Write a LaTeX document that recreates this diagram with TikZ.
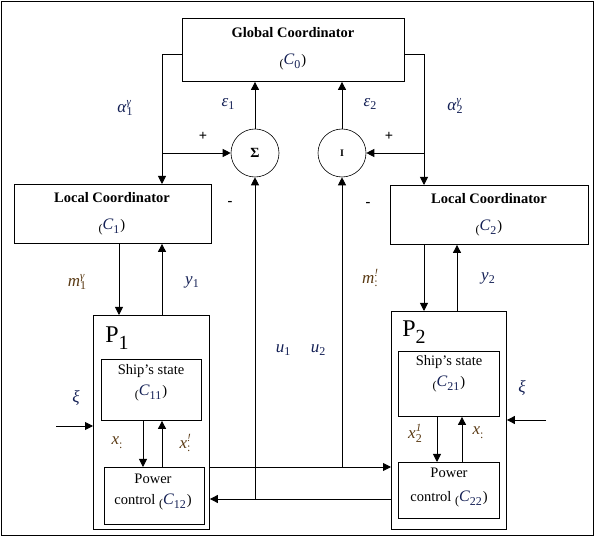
\documentclass[tikz,border=0pt]{standalone}
\usepackage{fontspec}
\setmainfont{Liberation Serif}
\usetikzlibrary{arrows.meta}
\definecolor{lab}{RGB}{20,32,85}
\definecolor{labm}{RGB}{90,58,20}
\newcommand{\sv}[3]{\textit{#1}\rlap{\raisebox{0.42em}{\fontsize{11}{11}\selectfont\textit{#2}}}\raisebox{-0.22em}{\fontsize{12}{11}\selectfont #3}}
\newcommand{\pc}[2]{{\raisebox{-3pt}{\fontsize{12}{12}\selectfont(}}\textcolor{lab}{\fontsize{16}{16}\selectfont\sv{#1}{}{#2}}\kern1pt)}
\begin{document}
\begin{tikzpicture}[x=1pt,y=-1pt,line width=0.9pt,
  >={Triangle[length=8pt,width=8pt]},
  box/.style={draw,rectangle,anchor=north west,inner sep=0pt},
  sum/.style={draw,circle,line width=0.6pt,minimum size=48pt,inner sep=0pt},
  txt/.style={inner sep=0pt,font=\fontsize{14.5}{16}\selectfont},
  btxt/.style={inner sep=0pt,font=\fontsize{14.5}{16}\selectfont\bfseries},
  mlab/.style={inner sep=0pt,text=lab,font=\fontsize{17}{19}\selectfont},
  mlabm/.style={inner sep=0pt,text=labm,font=\fontsize{17}{19}\selectfont},
  big/.style={inner sep=0pt,font=\fontsize{24}{24}\selectfont}]
\useasboundingbox (0,0) rectangle (595,537);
\draw[line width=1pt] (1.5,1.5) rectangle (593,535.5);
% boxes
\node[box,minimum width=222pt,minimum height=63pt] (gc) at (182,18) {};
\node[box,minimum width=197pt,minimum height=59pt] (lc1) at (14,184) {};
\node[box,minimum width=198pt,minimum height=59pt] (lc2) at (390,185) {};
\node[box,minimum width=116pt,minimum height=214pt] (p1) at (93,315) {};
\node[box,minimum width=100pt,minimum height=61pt] (ss1) at (101,359) {};
\node[box,minimum width=100pt,minimum height=57pt] (pw1) at (104,467) {};
\node[box,minimum width=115pt,minimum height=218pt] (p2) at (391,311) {};
\node[box,minimum width=101pt,minimum height=65pt] (ss2) at (398,351) {};
\node[box,minimum width=101pt,minimum height=56pt] (pw2) at (398,462) {};
\node[sum] (s1) at (255,153) {\textbf{\fontsize{14}{14}\selectfont Σ}};
\node[sum] (s2) at (342,153) {\textbf{\fontsize{10}{10}\selectfont I}};
% box texts
\node[btxt] (tgc) at (293,33) {Global Coordinator};
\node[txt] (tgc2) at (293,62) {\pc{C}{0}};
\node[btxt] (tlc1) at (112,198) {Local Coordinator};
\node[txt] (tlc1b) at (112,227) {\pc{C}{1}};
\node[btxt] (tlc2) at (489,199) {Local Coordinator};
\node[txt] (tlc2b) at (489,228) {\pc{C}{2}};
\node[big] (tp1) at (117,338) {P\raisebox{-7pt}{\fontsize{20}{20}\selectfont 1}};
\node[big] (tp2) at (414,332) {P\raisebox{-7pt}{\fontsize{20}{20}\selectfont 2}};
\node[txt] (tss1) at (151,371) {Ship’s state};
\node[txt] (tss1b) at (151,393) {\pc{C}{11}};
\node[txt] (tpw1) at (153,479) {Power};
\node[txt] (tpw1b) at (153,502) {control \pc{C}{12}};
\node[txt] (tss2) at (449,362) {Ship’s state};
\node[txt] (tss2b) at (449,384) {\pc{C}{21}};
\node[txt] (tpw2) at (449,473) {Power};
\node[txt] (tpw2b) at (449,499) {control \pc{C}{22}};
% signal labels
\node[mlab] (la1) at (125,108) {\sv{α}{γ}{1}};
\node[mlab] (le1) at (228,104) {\sv{ε}{}{1}};
\node[mlab] (le2) at (370,104) {\sv{ε}{}{2}};
\node[mlab] (la2) at (455,106) {\sv{α}{γ}{2}};
\node[btxt] (pl1) at (203,136) {+};
\node[btxt] (mi1) at (230,203) {-};
\node[btxt] (pl2) at (389,136) {+};
\node[btxt] (mi2) at (368,204) {-};
\node[mlabm] (lm1) at (77,282) {\sv{m}{γ}{1}};
\node[mlab] (ly1) at (192,282) {\sv{y}{}{1}};
\node[mlabm] (lm2) at (370,278) {\sv{m}{!}{:}};
\node[mlab] (ly2) at (488,278) {\sv{y}{}{2}};
\node[mlab] (lu1) at (283,350) {\sv{u}{}{1}};
\node[mlab] (lu2) at (318,350) {\sv{u}{}{2}};
\node[mlab] (lxi1) at (76,398) {\textit{ξ}};
\node[mlab] (lxi2) at (522,388) {\textit{ξ}};
\node[mlabm] (lx11) at (117,443) {\sv{x}{}{:}};
\node[mlabm] (lx12) at (185,443) {\sv{x}{!}{:}};
\node[mlabm] (lx21) at (415,433) {\sv{x}{1}{2}};
\node[mlabm] (lx22) at (478,433) {\sv{x}{}{:}};
% coordinates
\coordinate (a1) at (162,54);
\coordinate (b1) at (162,153);
\coordinate (a2) at (424,54);
\coordinate (b2) at (424,153);
\coordinate (j1) at (255,499);
\coordinate (j2) at (342,467);
\coordinate (xm1) at (119,0);
\coordinate (xy1) at (162,0);
\coordinate (xm2) at (424,0);
\coordinate (xy2) at (457,0);
\coordinate (xd1) at (143,0);
\coordinate (xu1) at (162,0);
\coordinate (xd2) at (437,0);
\coordinate (xu2) at (462,0);
\coordinate (xi1) at (56,426);
\coordinate (xi2) at (546,420);
% connectors
\draw[->] (gc.west |- a1) -- (a1) -- (lc1.north -| a1);
\draw[->] (b1) -- (s1.west);
\draw[->] (s1.north) -- (gc.south -| s1);
\draw[->] (gc.east |- a2) -- (a2) -- (lc2.north -| a2);
\draw[->] (b2) -- (s2.east);
\draw[->] (s2.north) -- (gc.south -| s2);
\draw[->] (lc1.south -| xm1) -- (p1.north -| xm1);
\draw[->] (p1.north -| xy1) -- (lc1.south -| xy1);
\draw[->] (lc2.south -| xm2) -- (p2.north -| xm2);
\draw[->] (p2.north -| xy2) -- (lc2.south -| xy2);
\draw[->] (ss1.south -| xd1) -- (pw1.north -| xd1);
\draw[->] (pw1.north -| xu1) -- (ss1.south -| xu1);
\draw[->] (ss2.south -| xd2) -- (pw2.north -| xd2);
\draw[->] (pw2.north -| xu2) -- (ss2.south -| xu2);
\draw[->] (xi1) -- (p1.west |- xi1);
\draw[->] (xi2) -- (p2.east |- xi2);
\draw[->] (p1.east |- j2) -- (p2.west |- j2);
\draw[->] (j2) -- (s2.south);
\draw[->] (p2.west |- j1) -- (p1.east |- j1);
\draw[->] (j1) -- (s1.south);
\end{tikzpicture}
\end{document}
